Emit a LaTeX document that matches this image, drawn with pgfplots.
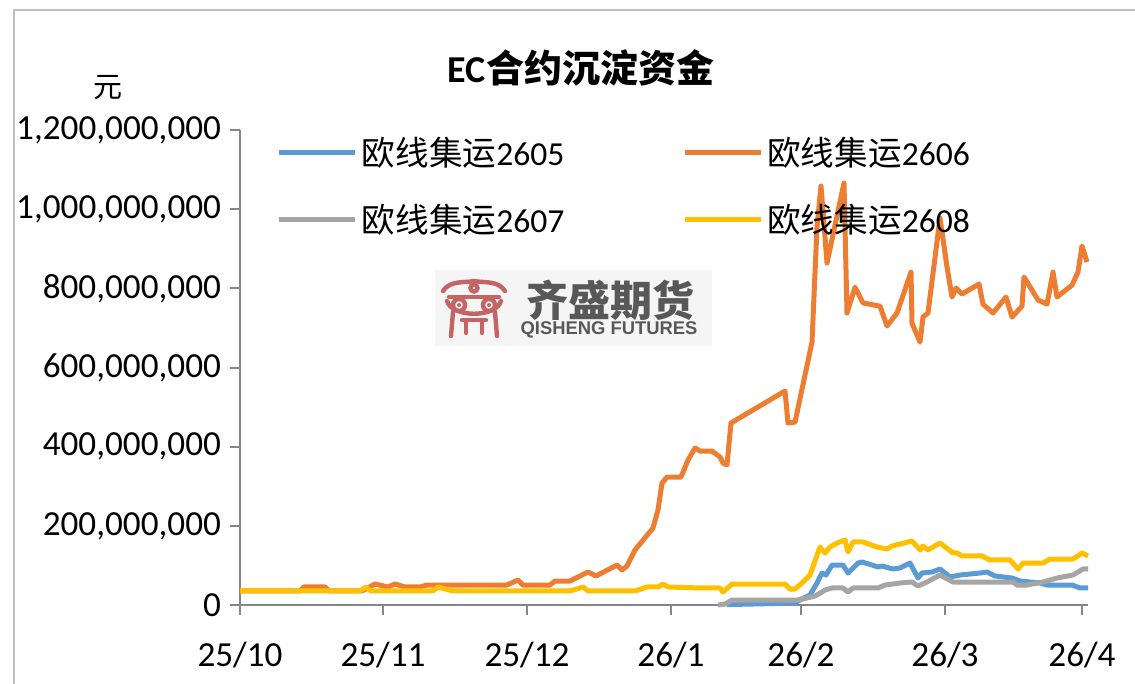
\documentclass[border=0pt]{standalone}
\usepackage{fontspec}
\setmainfont{Carlito}
\newfontfamily\cjk{Noto Sans CJK SC}
\newfontfamily\lib{Liberation Sans}
\usepackage{pgfplots}
\pgfplotsset{compat=1.18}
\definecolor{cBlue}{HTML}{5B9BD5}
\definecolor{cOrange}{HTML}{ED7D31}
\definecolor{cGray}{HTML}{A5A5A5}
\definecolor{cYellow}{HTML}{FFC000}
\definecolor{axgray}{HTML}{868686}
\definecolor{logored}{HTML}{C46464}
\definecolor{wmtext}{HTML}{585858}
\begin{document}
\begin{tikzpicture}
\useasboundingbox (0,0) rectangle (567.5pt,-342pt);
\begin{scope}[x=0.5pt,y=-0.5pt]
  % outer frame
  \draw[color=black!25, line width=1pt] (14,684) -- (14,10) -- (1135,10);
  % watermark
  \fill[black!4] (435,270) rectangle (712,346);
  \begin{scope}[color=logored, line width=2.2pt, line cap=round]
    \draw (443,291) .. controls (450,280) and (465,283) .. (474,281) .. controls (483,283) and (498,280) .. (505,291);
    \draw (474,288) circle (3.5);
    \draw (449,297) -- (499,297);
    \draw (459,305) circle (6);
    \draw (489,305) circle (6);
    \fill (459,305) circle (2);
    \fill (489,305) circle (2);
    \draw (447,301) .. controls (452,318) and (496,318) .. (501,301);
    \draw (453,312) -- (451,336);
    \draw (495,312) -- (497,336);
    \draw (462,320) -- (486,320);
    \draw (466,320) -- (466,333);
    \draw (482,320) -- (482,333);
  \end{scope}
  \node[text=wmtext, font={\cjk\bfseries\fontsize{21pt}{23pt}\selectfont}] at (610,300) {齐盛期货};
  \node[text=wmtext, font={\lib\bfseries\fontsize{9.2pt}{10pt}\selectfont}] at (609,330) {QISHENG FUTURES};
  % title and unit
  \node[font={\fontsize{19pt}{22pt}\selectfont\bfseries}] at (581,68) {EC{\cjk\bfseries 合约沉淀资金}};
  \node[font={\cjk\fontsize{14.5pt}{16pt}\selectfont}] at (108,88) {元};
\end{scope}
\begin{axis}[
  at={(120pt,-302.5pt)}, anchor=south west,
  scale only axis, width=424pt, height=237.5pt,
  xmin=240, xmax=1088, ymin=0, ymax=1200,
  clip=false,
  axis x line=bottom, axis y line=left,
  axis line style={-, color=axgray, line width=1pt},
  tick style={color=axgray, line width=1pt},
  tick align=outside, major tick length=5pt,
  xtick={240,383,527,671,801,945,1082},
  xticklabels={25/10,25/11,25/12,26/1,26/2,26/3,26/4},
  ytick={0,200,400,600,800,1000,1200},
  yticklabels={0,{200,000,000},{400,000,000},{600,000,000},{800,000,000},{1,000,000,000},{1,200,000,000}},
  ticklabel style={font=\fontsize{17.6pt}{19pt}\selectfont, text=black},
  xticklabel style={yshift=-10pt},
  yticklabel style={xshift=-1pt},
  legend columns=2,
  legend cell align=left,
  legend image code/.code={\draw[#1] (0pt,0pt) -- (38pt,0pt);},
  legend style={at={(0.043,0.995)}, anchor=north west, draw=none, fill=none,
    font=\fontsize{16.8pt}{19pt}\selectfont, row sep=14pt, inner sep=0pt,
    /tikz/every even column/.append style={column sep=57pt}},
  every axis plot/.append style={line width=2.5pt, line join=round},
]
\addplot[color=cBlue] coordinates {
(727,1) (795,5) (800,12.6) (810,25.3) (817,55.6) (822,80.8) (826,75.8) (832,101) (843,101)
(848,80.8) (858,106) (862,108.6) (872,101) (878,96) (882,98.5) (893,91) (900,93.5) (910,106)
(918,68.2) (922,80.8) (932,83.4) (940,91) (950,70.7) (960,75.8) (980,80.8) (987,83.4) (995,73.3)
(1012,68.2) (1020,60.6) (1040,55.6) (1047,50.5) (1072,50.5) (1080,43) (1088,43)
};
\addlegendentry{{\cjk 欧线集运}2605}
\addplot[color=cOrange] coordinates {
(240,35.4) (300,35.4) (304,45.5) (325,45.5) (329,35.4) (362,35.4) (375,53) (388,45.5) (395,53)
(405,45.5) (420,45.5) (427,50.5) (507,50.5) (518,63) (523,50.5) (550,50.5) (555,60.6) (570,60.6)
(588,83.4) (596,73.3) (617,101) (622,88.4) (627,98.5) (635,139) (653,194.5) (658,240) (662,308)
(667,323) (681,323) (688,366) (695,396.6) (700,389) (712,389) (720,374) (723,358.7) (727,353.7)
(731,459.8) (785,540.6) (788,459.8) (795,462) (812,664) (817,955) (821,1058.5) (827,864)
(844,1066) (847,737.6) (855,803) (863,763) (880,755) (887,705) (897,737.6) (911,841) (912,712)
(920,664) (923,727.5) (928,737.6) (940,977.6) (947,854) (952,778) (956,800.8) (962,785.6)
(979,811) (983,760) (993,737.6) (1006,778) (1012,727.5) (1022,755) (1024,828.6) (1038,770.5)
(1047,760) (1053,841) (1057,778) (1072,808) (1078,841) (1082,907) (1087,866.5)
};
\addlegendentry{{\cjk 欧线集运}2606}
\addplot[color=cGray] coordinates {
(718,0) (725,2.5) (732,12.6) (797,12.6) (807,17.7) (815,22.7) (822,32.8) (825,37.9) (832,43)
(843,43) (848,32.8) (853,43) (878,43) (885,50.5) (900,55.6) (912,58.1) (918,48) (927,58.1)
(940,75.8) (953,58.1) (1013,58.1) (1017,50.5) (1027,50.5) (1043,58.1) (1057,68.2) (1073,75.8)
(1083,91) (1088,91)
};
\addlegendentry{{\cjk 欧线集运}2607}
\addplot[color=cYellow] coordinates {
(240,35.4) (360,35.4) (366,45.5) (371,35.4) (433,35.4) (438,45.5) (453,35.4) (570,35.4)
(583,45.5) (588,35.4) (635,35.4) (647,45.5) (658,45.5) (663,53) (668,45.5) (700,43) (720,43)
(723,32.8) (732,53) (785,53) (790,40.4) (795,40.4) (802,55.6) (810,75.8) (820,146.5) (825,131.4)
(830,146.5) (837,156.6) (845,164.2) (848,133.9) (853,159.2) (863,159.2) (877,146.5) (887,141.5)
(892,149) (900,154) (912,161.7) (920,139) (923,149) (928,139) (940,156.6) (953,131.4) (957,131.4)
(962,123.8) (982,123.8) (990,113.7) (1010,113.7) (1018,91) (1023,106) (1043,106) (1050,116.2)
(1073,116.2) (1082,131.4) (1088,123.8)
};
\addlegendentry{{\cjk 欧线集运}2608}
\end{axis}
\end{tikzpicture}
\end{document}
